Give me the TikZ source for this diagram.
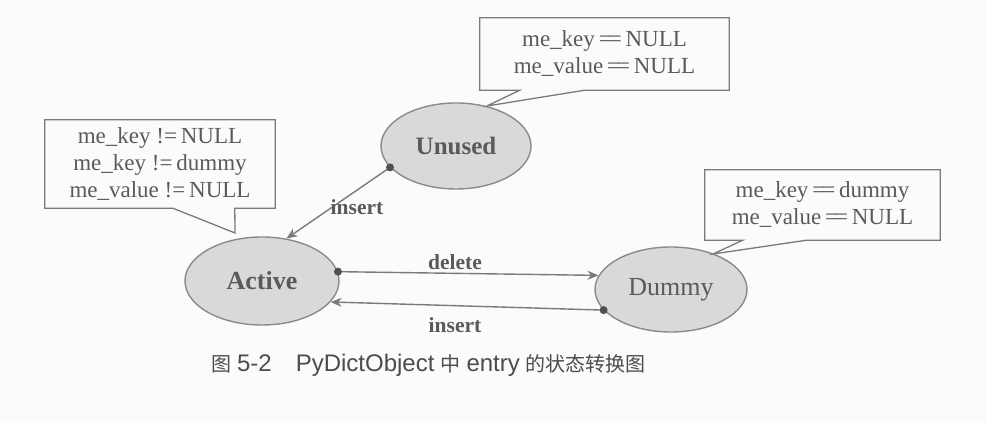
\documentclass[tikz,border=0pt]{standalone}
\usepackage{fontspec}
\setmainfont{Liberation Serif}
\newfontfamily\capsans{Liberation Sans}
\newfontfamily\cjk{Noto Sans CJK SC}
\newcommand\cjktext[1]{{\cjk\fontsize{20}{20}\selectfont #1}}
\usetikzlibrary{arrows.meta,shapes.geometric,calc}
\definecolor{bg}{HTML}{FBFBFA}
\definecolor{efill}{HTML}{D9D9D9}
\definecolor{eline}{HTML}{8A8A8A}
\definecolor{ink}{HTML}{5A5A5A}
\definecolor{wire}{HTML}{7A7A7A}
\definecolor{dotc}{HTML}{505050}
\begin{document}
\begin{tikzpicture}[x=1pt,y=1pt,
  state/.style={ellipse, draw=eline, line width=1.4pt, fill=efill, inner sep=0pt, text=ink, font=\fontsize{26}{26}\selectfont},
  note/.style={rectangle, inner sep=0pt, align=center, text=ink, font=\fontsize{23}{27}\selectfont},
  noteline/.style={draw=wire, line width=1.3pt, line join=miter},
  trans/.style={draw=wire, line width=1.4pt, -{Stealth[length=11pt,width=9pt,inset=3.5pt]}},
  tlabel/.style={text=ink, font=\fontsize{21.5}{21.5}\selectfont\bfseries, inner sep=0pt},
  startdot/.style={circle, fill=dotc, inner sep=0pt, minimum size=8pt}
]
\fill[bg] (0,0) rectangle (986,422);
\useasboundingbox (0,0) rectangle (986,422);

% states
\node[state, minimum width=150pt, minimum height=86pt, font=\fontsize{25}{25}\selectfont\bfseries] (u) at (456,276) {Unused};
\node[state, minimum width=154pt, minimum height=88pt, font=\fontsize{26}{26}\selectfont\bfseries] (a) at (262,141) {Active};
\node[state, minimum width=152pt, minimum height=85pt] (d) at (671,132.5) {Dummy};

% callouts
\node[note, minimum width=249pt, minimum height=72pt] (nu) at (604.5,368)
  {me\_key\,=\kern-3pt=\,NULL\\ me\_value\,=\kern-3pt=\,NULL};
\coordinate (nutip) at (487,316);
\draw[noteline] (nu.south west) -- ($(nu.south west)+(40,0)$) -- (nutip) -- ($(nu.south west)+(105,0)$)
  -- (nu.south east) -- (nu.north east) -- (nu.north west) -- cycle;

\node[note, minimum width=230pt, minimum height=88pt] (na) at (160,258)
  {me\_key\ !=\,NULL\\ me\_key\ !=\,dummy\\ me\_value\ !=\,NULL};
\coordinate (natip) at (235,189);
\draw[noteline] (na.south west) -- ($(na.south west)+(128,0)$) -- (natip) -- ($(na.south west)+(190,0)$)
  -- (na.south east) -- (na.north east) -- (na.north west) -- cycle;

\node[note, minimum width=235pt, minimum height=70pt] (nd) at (822.5,217)
  {me\_key\,=\kern-3pt=\,dummy\\ me\_value\,=\kern-3pt=\,NULL};
\coordinate (ndtip) at (713,168);
\draw[noteline] (nd.south west) -- ($(nd.south west)+(38,0)$) -- (ndtip) -- ($(nd.south west)+(102,0)$)
  -- (nd.south east) -- (nd.north east) -- (nd.north west) -- cycle;

% transitions
\draw[trans] (u.198) -- (a.60);
\draw[trans] (a.7) -- (d.169);
\draw[trans] (d.197) -- (a.343);
\node[startdot] (d1) at (u.198) {};
\node[startdot] (d2) at (a.7) {};
\node[startdot] (d3) at (d.197) {};

\node[tlabel] (l1) at (357,215) {insert};
\node[tlabel] (l2) at (455,160) {delete};
\node[tlabel] (l3) at (455,97) {insert};

% caption
\node[inner sep=0pt, text=ink!85!black, font=\capsans\fontsize{24}{24}\selectfont] (cap) at (428.5,57)
  {\cjktext{图}\hspace{6pt}5-2\hspace{24pt}PyDictObject\hspace{6pt}\cjktext{中}\hspace{6pt}entry\hspace{6pt}\cjktext{的状态转换图}};
\end{tikzpicture}
\end{document}
